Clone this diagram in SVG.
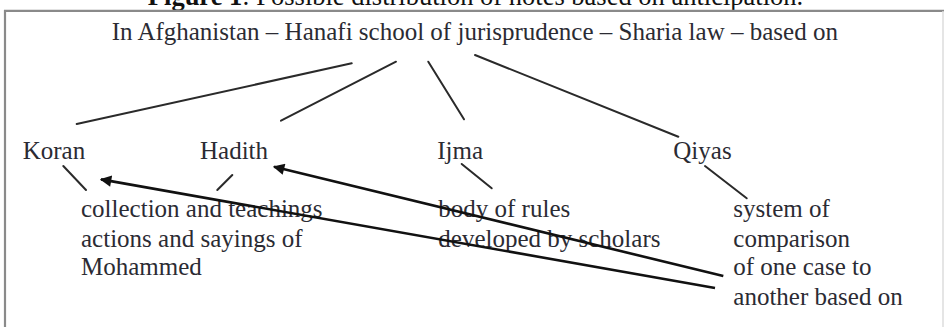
<svg xmlns="http://www.w3.org/2000/svg" width="944" height="327" viewBox="0 0 944 327">
<style>
.t{font-family:"Liberation Serif","Times New Roman",serif;font-size:25px;fill:#2b2b33}
.title{font-family:"Liberation Serif","Times New Roman",serif;font-size:26.5px;fill:#111}
.ln{stroke:#2a2a2a;stroke-width:2;fill:none;stroke-linecap:round}
.ar{stroke:#111;stroke-width:2.6;fill:none}
.frame{stroke:#8a8a8a;stroke-width:2.2;fill:none}
</style>
<defs>
<marker id="ah" viewBox="0 0 10 10" refX="9" refY="5" markerWidth="5" markerHeight="4.4" markerUnits="strokeWidth" orient="auto">
<path d="M0,0 L10,5 L0,10 z" fill="#111"/>
</marker>
</defs>
<rect width="944" height="327" fill="#fff"/>
<text class="title" x="475.5" y="4.5" text-anchor="middle"><tspan font-weight="bold">Figure 1</tspan>: Possible distribution of notes based on anticipation.</text>
<path class="frame" d="M5,327 V10.8 H944"/>
<path d="M943,11 V327" stroke="#dcdcdc" stroke-width="1.5"/>
<g id="root"><text class="t" x="111.7" y="39.5">In Afghanistan – Hanafi school of jurisprudence – Sharia law – based on</text></g>
<g id="koran"><text class="t" x="22.7" y="159">Koran</text></g>
<g id="hadith"><text class="t" x="200" y="159">Hadith</text></g>
<g id="ijma"><text class="t" x="437.3" y="159">Ijma</text></g>
<g id="qiyas"><text class="t" x="673.3" y="159">Qiyas</text></g>
<g id="hadith-note"><text class="t" x="81" y="217">collection and teachings</text><text class="t" x="81" y="246.5">actions and sayings of</text><text class="t" x="81" y="275">Mohammed</text></g>
<g id="ijma-note"><text class="t" x="438.3" y="217">body of rules</text><text class="t" x="438.3" y="246.5">developed by scholars</text></g>
<g id="qiyas-note"><text class="t" x="733.3" y="217">system of</text><text class="t" x="733.3" y="246.5">comparison</text><text class="t" x="733.3" y="275">of one case to</text><text class="t" x="733.3" y="304.5">another based on</text></g>
<g id="connectors">
<line class="ln" x1="351.7" y1="63.3" x2="76.7" y2="124"/>
<line class="ln" x1="396" y1="61.7" x2="281" y2="120.7"/>
<line class="ln" x1="428.3" y1="61.7" x2="464" y2="119.3"/>
<line class="ln" x1="475" y1="55" x2="678.3" y2="136.7"/>
<line class="ln" x1="63.3" y1="166" x2="86" y2="190"/>
<line class="ln" x1="232.3" y1="175" x2="217.3" y2="190"/>
<line class="ln" x1="461.7" y1="164" x2="491.7" y2="188.3"/>
<line class="ln" x1="705" y1="166" x2="746.7" y2="198.3"/>
<line class="ar" x1="715" y1="288" x2="101" y2="179.4" marker-end="url(#ah)"/>
<line class="ar" x1="723.3" y1="276" x2="274" y2="166.8" marker-end="url(#ah)"/>
</g>
</svg>
